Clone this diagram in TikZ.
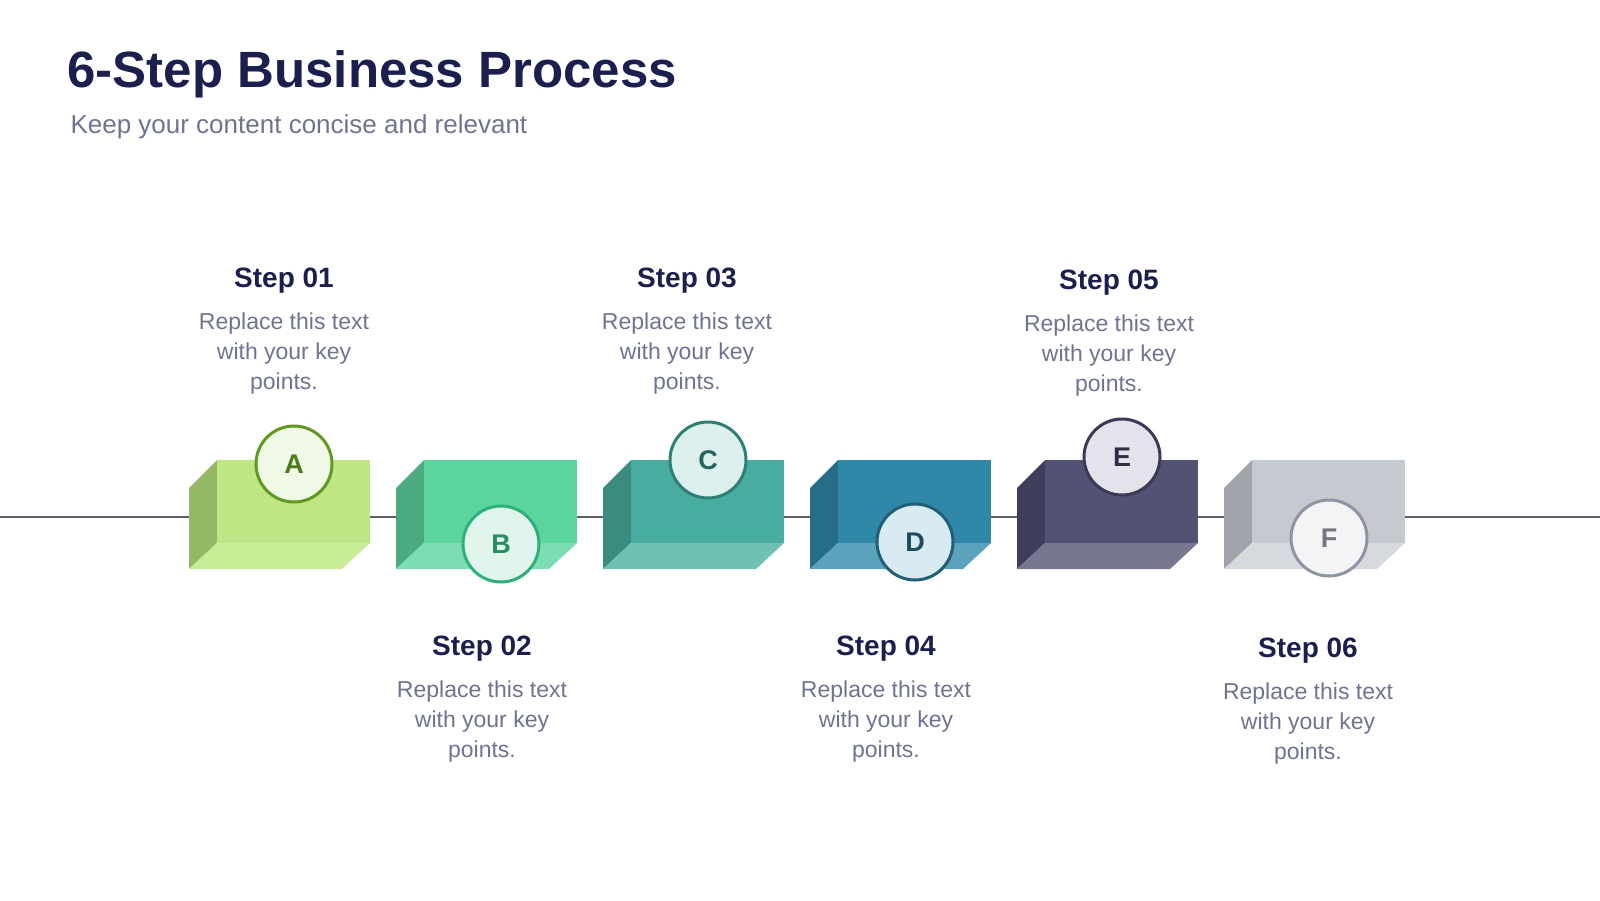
\documentclass[tikz,border=0pt]{standalone}
\usepackage{fontspec}
\setmainfont{Liberation Sans}
\usetikzlibrary{positioning}
\definecolor{titleblue}{HTML}{1A1F4E}
\definecolor{greytext}{HTML}{6E7391}
\definecolor{linegrey}{HTML}{5A5F6B}
\tikzset{
  steptitle/.style={font=\fontsize{28}{32}\selectfont\bfseries, text=titleblue},
  steptext/.style={font=\fontsize{23}{30}\selectfont, text=greytext, align=center},
  badge/.style={circle, minimum size=76pt, line width=3pt, font=\fontsize{27}{30}\selectfont\bfseries}
}
\begin{document}
\begin{tikzpicture}[x=1pt,y=-1pt]
    \useasboundingbox (0,0) rectangle (1600,900);

    % title
    \node (title) [anchor=west, font=\fontsize{51}{60}\selectfont\bfseries, text=titleblue] at (64,74) {6-Step Business Process};
    \node (subtitle) [anchor=west, font=\fontsize{26}{30}\selectfont, text=greytext] at (67,127) {Keep your content concise and relevant};

    % axis
    \coordinate (axisL) at (0,517);
    \coordinate (axisR) at (1600,517);
    \draw [linegrey, line width=2.5pt] (axisL) -- (axisR);

    % blocks
    \foreach \i/\cfront/\cside/\cbottom/\cfill/\cring/\letter/\cy/\tx/\ty/\lab in {
        1/BFE584/94B865/C9ED97/F0F8E6/5E9A20/A/464/284/281/01,
        2/5CD49E/4BAA80/7DDDB2/E0F5EC/2FB07A/B/544/482/649/02,
        3/48ADA0/3A8C81/6FC0B5/DCF0EE/2E7F74/C/460/687/281/03,
        4/2F88A8/266D88/5BA2BC/D8EBF2/215F77/D/542/886/649/04,
        5/525275/3E3E5C/77778F/E4E3EC/3A3A55/E/457/1109/283/05,
        6/C5C9D0/A0A4AA/D6D9DE/F4F4F6/8E94A3/F/538/1308/651/06} {
      \pgfmathsetmacro{\bx}{217+207*(\i-1)}
      \definecolor{bfront}{HTML}{\cfront}
      \definecolor{bside}{HTML}{\cside}
      \definecolor{bbottom}{HTML}{\cbottom}
      \definecolor{bfill}{HTML}{\cfill}
      \definecolor{bring}{HTML}{\cring}
      \fill [bside] (\bx,460) -- (\bx-28,488) -- (\bx-28,569) -- (\bx,543) -- cycle;
      \fill [bbottom] (\bx-28,569) -- (\bx+125,569) -- (\bx+153,543) -- (\bx,543) -- cycle;
      \fill [bfront] (\bx,460) rectangle (\bx+153,543);
      \node (c\i) [badge, draw=bring, fill=bfill, text=bring!80!black] at (\bx+77,\cy) {\letter};
      \node (s\i) [steptitle] at (\tx,\ty) {Step \lab};
      \node (t\i) [steptext, below=12pt of s\i] {Replace this text\\with your key\\points.};
    }
\end{tikzpicture}
\end{document}
